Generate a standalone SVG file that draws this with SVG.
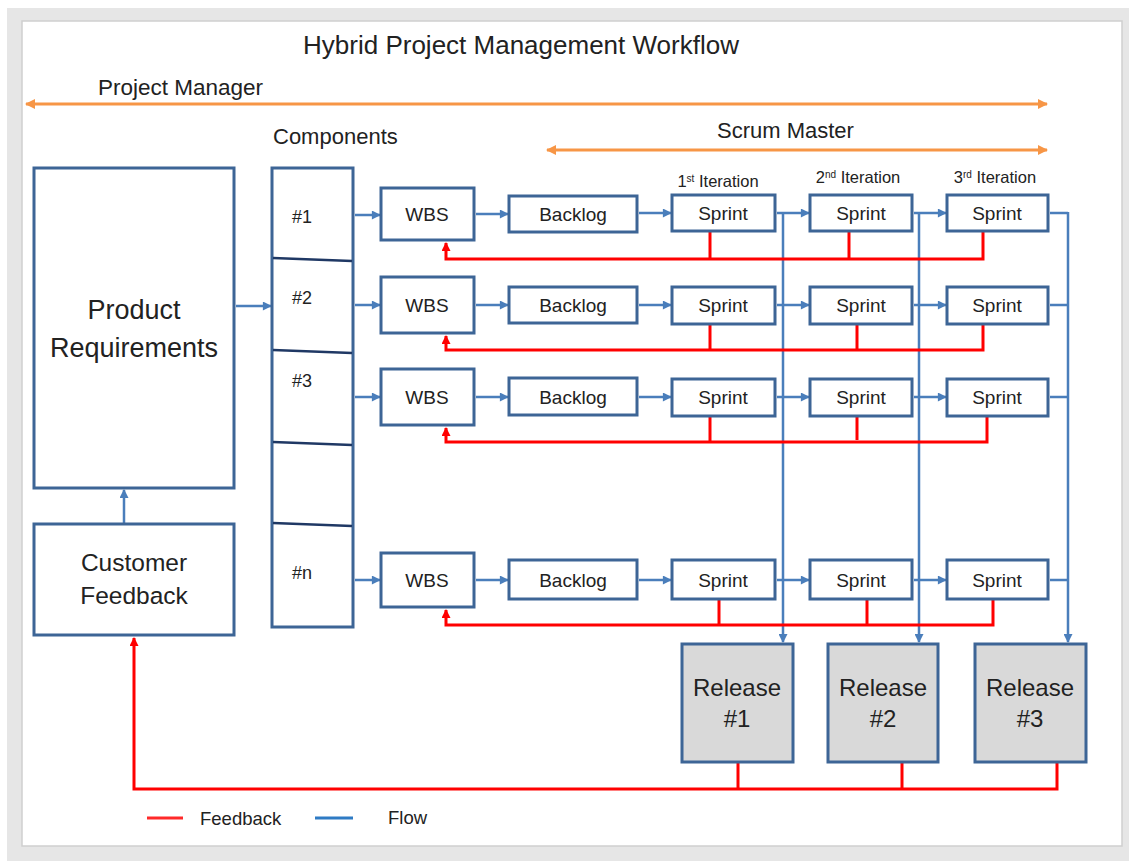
<svg xmlns="http://www.w3.org/2000/svg" width="1129" height="861" viewBox="0 0 1129 861">
<style>
text{font-family:"Liberation Sans",Arial,sans-serif;fill:#222222}
.box{fill:#fff;stroke:#3d6596;stroke-width:3}
.rel{fill:#d9d9d9;stroke:#3d6596;stroke-width:3}
.div{stroke:#1f3864;stroke-width:2.5;fill:none}
.flow{stroke:#4a7ebb;stroke-width:2.5;fill:none}
.fb{stroke:#ff0000;stroke-width:3;fill:none}
.role{stroke:#f79646;stroke-width:3;fill:none}
.s{font-size:19px;text-anchor:middle}
.c{font-size:18px}
.it{font-size:16.5px;text-anchor:middle}
</style>
<defs>
<marker id="ab" viewBox="0 0 10 10" refX="9" refY="5" markerWidth="10" markerHeight="9" markerUnits="userSpaceOnUse" orient="auto-start-reverse"><path d="M0,0 L10,5 L0,10 z" fill="#4a7ebb"/></marker>
<marker id="ar" viewBox="0 0 10 10" refX="9" refY="5" markerWidth="10" markerHeight="9" markerUnits="userSpaceOnUse" orient="auto-start-reverse"><path d="M0,0 L10,5 L0,10 z" fill="#ff0000"/></marker>
<marker id="ao" viewBox="0 0 10 10" refX="9" refY="5" markerWidth="11" markerHeight="10" markerUnits="userSpaceOnUse" orient="auto-start-reverse"><path d="M0,0 L10,5 L0,10 z" fill="#f79646"/></marker>
</defs>
<rect x="0" y="0" width="1129" height="861" fill="#ffffff"/>
<rect x="7" y="8" width="1122" height="853" fill="#e6e6e6"/>
<rect x="22" y="21" width="1100" height="825" fill="#ffffff" stroke="#cfcfcf" stroke-width="1.5"/>

<g id="title"><text x="521" y="54" font-size="26" text-anchor="middle">Hybrid Project Management Workflow</text></g>
<g id="project-manager">
<text x="98" y="95" font-size="22.5">Project Manager</text>
<line class="role" x1="26" y1="104" x2="1047" y2="104" marker-start="url(#ao)" marker-end="url(#ao)"/>
</g>
<g id="scrum-master">
<text x="717" y="138" font-size="22">Scrum Master</text>
<line class="role" x1="547" y1="150" x2="1047" y2="150" marker-start="url(#ao)" marker-end="url(#ao)"/>
</g>
<g id="components-label"><text x="273" y="144" font-size="22">Components</text></g>

<g id="iterations">
<text class="it" x="718" y="187">1<tspan font-size="10" baseline-shift="super">st</tspan> Iteration</text>
<text class="it" x="858" y="183">2<tspan font-size="10" baseline-shift="super">nd</tspan> Iteration</text>
<text class="it" x="995" y="183">3<tspan font-size="10" baseline-shift="super">rd</tspan>  Iteration</text>
</g>

<g id="connectors">
<line class="flow" x1="236" y1="306" x2="271" y2="306" marker-end="url(#ab)"/>
<line class="flow" x1="124" y1="523" x2="124" y2="490" marker-end="url(#ab)"/>
<line class="flow" x1="355" y1="215" x2="380" y2="215" marker-end="url(#ab)"/>
<line class="flow" x1="476" y1="214" x2="508" y2="214" marker-end="url(#ab)"/>
<line class="flow" x1="639" y1="213" x2="671" y2="213" marker-end="url(#ab)"/>
<line class="flow" x1="777" y1="213" x2="809" y2="213" marker-end="url(#ab)"/>
<line class="flow" x1="914" y1="213" x2="946" y2="213" marker-end="url(#ab)"/>
<line class="flow" x1="1050" y1="213" x2="1068" y2="213"/>
<line class="flow" x1="355" y1="305" x2="380" y2="305" marker-end="url(#ab)"/>
<line class="flow" x1="476" y1="305" x2="508" y2="305" marker-end="url(#ab)"/>
<line class="flow" x1="639" y1="305" x2="671" y2="305" marker-end="url(#ab)"/>
<line class="flow" x1="777" y1="305" x2="809" y2="305" marker-end="url(#ab)"/>
<line class="flow" x1="914" y1="305" x2="946" y2="305" marker-end="url(#ab)"/>
<line class="flow" x1="1050" y1="305" x2="1068" y2="305"/>
<line class="flow" x1="355" y1="397" x2="380" y2="397" marker-end="url(#ab)"/>
<line class="flow" x1="476" y1="397" x2="508" y2="397" marker-end="url(#ab)"/>
<line class="flow" x1="639" y1="397" x2="671" y2="397" marker-end="url(#ab)"/>
<line class="flow" x1="777" y1="397" x2="809" y2="397" marker-end="url(#ab)"/>
<line class="flow" x1="914" y1="397" x2="946" y2="397" marker-end="url(#ab)"/>
<line class="flow" x1="1050" y1="397" x2="1068" y2="397"/>
<line class="flow" x1="355" y1="580" x2="380" y2="580" marker-end="url(#ab)"/>
<line class="flow" x1="476" y1="580" x2="508" y2="580" marker-end="url(#ab)"/>
<line class="flow" x1="639" y1="580" x2="671" y2="580" marker-end="url(#ab)"/>
<line class="flow" x1="777" y1="580" x2="809" y2="580" marker-end="url(#ab)"/>
<line class="flow" x1="914" y1="580" x2="946" y2="580" marker-end="url(#ab)"/>
<line class="flow" x1="1050" y1="580" x2="1068" y2="580"/>
<line class="flow" x1="783" y1="213" x2="783" y2="642" marker-end="url(#ab)"/>
<line class="flow" x1="919" y1="213" x2="919" y2="642" marker-end="url(#ab)"/>
<line class="flow" x1="1068" y1="212" x2="1068" y2="642" marker-end="url(#ab)"/>
<path class="fb" d="M983,232 V259 H446 V243" marker-end="url(#ar)"/>
<line class="fb" x1="710" y1="232" x2="710" y2="259"/>
<line class="fb" x1="849" y1="232" x2="849" y2="259"/>
<path class="fb" d="M983,325 V350 H446 V336" marker-end="url(#ar)"/>
<line class="fb" x1="710" y1="325" x2="710" y2="350"/>
<line class="fb" x1="857" y1="325" x2="857" y2="350"/>
<path class="fb" d="M987,417 V442 H446 V428" marker-end="url(#ar)"/>
<line class="fb" x1="710" y1="417" x2="710" y2="442"/>
<line class="fb" x1="857" y1="417" x2="857" y2="440"/>
<path class="fb" d="M993,600 V625 H446 V610" marker-end="url(#ar)"/>
<line class="fb" x1="719" y1="600" x2="719" y2="625"/>
<line class="fb" x1="867" y1="600" x2="867" y2="625"/>
<path class="fb" d="M1057,763 V789 H134 V638" marker-end="url(#ar)"/>
<line class="fb" x1="738" y1="763" x2="738" y2="789"/>
<line class="fb" x1="902" y1="763" x2="902" y2="789"/>
</g>

<g id="product-requirements">
<rect class="box" x="34" y="168" width="200" height="320"/>
<text x="134" y="319" font-size="27" text-anchor="middle">Product</text>
<text x="134" y="357" font-size="27" text-anchor="middle">Requirements</text>
</g>
<g id="customer-feedback">
<rect class="box" x="34" y="524" width="200" height="111"/>
<text x="134" y="571" font-size="24.5" text-anchor="middle">Customer</text>
<text x="134" y="604" font-size="24.5" text-anchor="middle">Feedback</text>
</g>

<g id="components">
<rect class="box" x="272" y="168" width="81" height="459"/>
<line class="div" x1="273" y1="258" x2="352" y2="261"/>
<line class="div" x1="273" y1="350" x2="352" y2="353"/>
<line class="div" x1="273" y1="442" x2="352" y2="445"/>
<line class="div" x1="273" y1="523" x2="352" y2="526"/>
<text class="c" x="292" y="223">#1</text>
<text class="c" x="292" y="304">#2</text>
<text class="c" x="292" y="387">#3</text>
<text class="c" x="292" y="579">#n</text>
</g>

<g id="wbs-1"><rect class="box" x="381" y="188" width="93" height="52"/><text class="s" x="427" y="221">WBS</text></g>
<g id="backlog-1"><rect class="box" x="509" y="196" width="128" height="36"/><text class="s" x="573" y="221">Backlog</text></g>
<g id="sprint-1-1"><rect class="box" x="672" y="195" width="103" height="36"/><text class="s" x="723" y="220">Sprint</text></g>
<g id="sprint-1-2"><rect class="box" x="810" y="195" width="102" height="36"/><text class="s" x="861" y="220">Sprint</text></g>
<g id="sprint-1-3"><rect class="box" x="947" y="195" width="101" height="36"/><text class="s" x="997" y="220">Sprint</text></g>

<g id="wbs-2"><rect class="box" x="381" y="277" width="93" height="56"/><text class="s" x="427" y="312">WBS</text></g>
<g id="backlog-2"><rect class="box" x="509" y="287" width="128" height="36"/><text class="s" x="573" y="312">Backlog</text></g>
<g id="sprint-2-1"><rect class="box" x="672" y="287" width="103" height="37"/><text class="s" x="723" y="312">Sprint</text></g>
<g id="sprint-2-2"><rect class="box" x="810" y="287" width="102" height="37"/><text class="s" x="861" y="312">Sprint</text></g>
<g id="sprint-2-3"><rect class="box" x="947" y="287" width="101" height="37"/><text class="s" x="997" y="312">Sprint</text></g>

<g id="wbs-3"><rect class="box" x="381" y="369" width="93" height="56"/><text class="s" x="427" y="404">WBS</text></g>
<g id="backlog-3"><rect class="box" x="509" y="378" width="128" height="37"/><text class="s" x="573" y="404">Backlog</text></g>
<g id="sprint-3-1"><rect class="box" x="672" y="379" width="103" height="37"/><text class="s" x="723" y="404">Sprint</text></g>
<g id="sprint-3-2"><rect class="box" x="810" y="379" width="102" height="37"/><text class="s" x="861" y="404">Sprint</text></g>
<g id="sprint-3-3"><rect class="box" x="947" y="379" width="101" height="37"/><text class="s" x="997" y="404">Sprint</text></g>

<g id="wbs-n"><rect class="box" x="381" y="553" width="93" height="54"/><text class="s" x="427" y="587">WBS</text></g>
<g id="backlog-n"><rect class="box" x="509" y="560" width="128" height="39"/><text class="s" x="573" y="587">Backlog</text></g>
<g id="sprint-n-1"><rect class="box" x="672" y="560" width="103" height="39"/><text class="s" x="723" y="587">Sprint</text></g>
<g id="sprint-n-2"><rect class="box" x="810" y="560" width="102" height="39"/><text class="s" x="861" y="587">Sprint</text></g>
<g id="sprint-n-3"><rect class="box" x="947" y="560" width="101" height="39"/><text class="s" x="997" y="587">Sprint</text></g>

<g id="release-1"><rect class="rel" x="682" y="644" width="111" height="118"/><text x="737" y="696" font-size="24" text-anchor="middle">Release</text><text x="737" y="727" font-size="24" text-anchor="middle">#1</text></g>
<g id="release-2"><rect class="rel" x="828" y="644" width="110" height="118"/><text x="883" y="696" font-size="24" text-anchor="middle">Release</text><text x="883" y="727" font-size="24" text-anchor="middle">#2</text></g>
<g id="release-3"><rect class="rel" x="975" y="644" width="111" height="118"/><text x="1030" y="696" font-size="24" text-anchor="middle">Release</text><text x="1030" y="727" font-size="24" text-anchor="middle">#3</text></g>

<g id="legend">
<line x1="147" y1="818" x2="183" y2="818" stroke="#ff2a2a" stroke-width="3"/>
<text x="200" y="825" font-size="18.5">Feedback</text>
<line x1="315" y1="818" x2="353" y2="818" stroke="#2e7bc4" stroke-width="3"/>
<text x="388" y="824" font-size="18.5">Flow</text>
</g>
</svg>
